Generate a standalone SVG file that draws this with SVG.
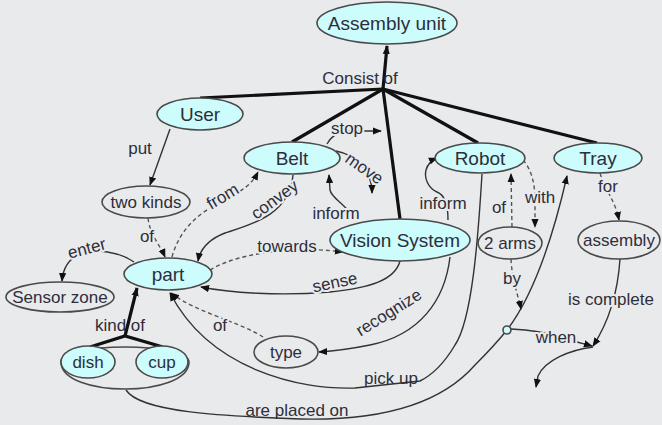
<svg xmlns="http://www.w3.org/2000/svg" width="662" height="425" viewBox="0 0 662 425">
<defs>
<style>
.bg{fill:#e9eaec}
.n ellipse,.n path{stroke:#4a4a4a;stroke-width:1.6}
.c ellipse{fill:#ccfcfc}
.o ellipse,.o path{fill:none}
.t{font-family:"Liberation Sans",Arial,sans-serif;fill:#2e2e3a;text-anchor:middle}
.big{font-size:19px}
.sm{font-size:17px}
.ln{fill:none;stroke:#333;stroke-width:1.4}
.dash{stroke-dasharray:4 3;stroke:#555}
.thick{fill:none;stroke:#111;stroke-width:3.2}
.halo{stroke:#e9eaec;stroke-width:4;paint-order:stroke;stroke-linejoin:round}
</style>
<marker id="ah" viewBox="0 0 10 10" refX="9" refY="5" markerWidth="9" markerHeight="9" markerUnits="userSpaceOnUse" orient="auto"><path d="M0,1 L10,5 L0,9Z" fill="#111"/></marker>
</defs>
<rect class="bg" x="0" y="0" width="662" height="425"/>

<g id="connectors">
  <!-- Consist of hub -->
  <path class="thick" d="M383,89 L387,46" marker-end="url(#ah)"/>
  <path class="thick" d="M383,89 L200,98"/>
  <path class="thick" d="M383,89 L292,142"/>
  <path class="thick" d="M383,89 L400,219"/>
  <path class="thick" d="M383,89 L478,143"/>
  <path class="thick" d="M383,89 L597,143"/>
  <text class="t sm" x="360" y="84">Consist of</text>

  <!-- put -->
  <path class="ln" d="M170,129 L150,185" marker-end="url(#ah)"/>
  <text class="t sm" x="140" y="154">put</text>

  <!-- of (two kinds -> part) -->
  <path class="ln dash" d="M148,218 C150,235 160,245 165,257" marker-end="url(#ah)"/>
  <text class="t sm halo" x="147" y="242">of</text>

  <!-- from -->
  <path class="ln dash" d="M172,257 C180,228 200,212 224,200 C244,190 252,184 258,172" marker-end="url(#ah)"/>
  <text class="t sm halo" transform="translate(223,197) rotate(-31)" y="5">from</text>

  <!-- convey -->
  <path class="ln" d="M293,175 C290,215 250,225 225,233 C207,240 200,250 198,261" marker-end="url(#ah)"/>
  <text class="t sm halo" transform="translate(275,200) rotate(-36)" y="5">convey</text>

  <!-- stop -->
  <path class="ln" d="M327,144 C332,135 340,131 350,131 L381,131" marker-end="url(#ah)"/>
  <text class="t sm halo" x="347" y="134">stop</text>

  <!-- move -->
  <path class="ln" d="M336,151 C356,155 372,170 372,193" marker-end="url(#ah)"/>
  <text class="t sm halo" transform="translate(364,169) rotate(35)" y="5">move</text>

  <!-- inform (Vision -> Belt) -->
  <path class="ln" d="M352,221 C350,205 332,200 330,190 L329,175" marker-end="url(#ah)"/>
  <text class="t sm halo" x="336" y="219">inform</text>

  <!-- inform (Vision -> Robot) -->
  <path class="ln" d="M448,220 C448,205 445,195 437,192 C428,188 424,178 426,170 C428,163 432,160 437,158" marker-end="url(#ah)"/>
  <text class="t sm halo" x="443" y="209">inform</text>

  <!-- towards -->
  <path class="ln dash" d="M210,270 C230,258 260,252 290,250 C310,249 328,250 343,252" marker-end="url(#ah)"/>
  <text class="t sm halo" x="287" y="252">towards</text>

  <!-- sense -->
  <path class="ln" d="M400,261 C395,280 370,288 330,292 C280,296 230,293 201,287" marker-end="url(#ah)"/>
  <text class="t sm halo" transform="translate(335,283) rotate(-12)" y="5">sense</text>

  <!-- recognize -->
  <path class="ln" d="M450,257 C445,300 420,335 370,345 C350,349 335,351 319,352" marker-end="url(#ah)"/>
  <text class="t sm" transform="translate(389,313) rotate(-32)" y="5">recognize</text>

  <!-- of (type -> part) -->
  <path class="ln dash" d="M263,337 C240,322 195,312 171,293" marker-end="url(#ah)"/>
  <text class="t sm halo" x="220" y="331">of</text>

  <!-- pick up -->
  <path class="ln" d="M482,174 C478,240 472,320 455,345 C445,362 432,375 420,381 L355,388 C300,390 210,370 170,293" marker-end="url(#ah)"/>
  <text class="t sm" x="391" y="384">pick up</text>

  <!-- are placed on -->
  <path class="ln" d="M126,390 C140,412 220,416 300,419 C380,421 440,405 475,365 C495,345 503,335 507,330 C530,300 550,250 567,176" marker-end="url(#ah)"/>
  <text class="t sm" x="297" y="416">are placed on</text>

  <!-- with -->
  <path class="ln dash" d="M523,160 C532,170 535,185 535,200 L535,227" marker-end="url(#ah)"/>
  <text class="t sm halo" x="540" y="203">with</text>

  <!-- of (2 arms -> Robot) -->
  <path class="ln dash" d="M512,227 L511,174" marker-end="url(#ah)"/>
  <text class="t sm halo" x="499" y="213">of</text>

  <!-- by -->
  <path class="ln dash" d="M511,259 C512,280 518,295 521,309" marker-end="url(#ah)"/>
  <text class="t sm halo" x="512" y="284">by</text>

  <!-- for -->
  <path class="ln dash" d="M600,173 C605,190 615,200 619,220" marker-end="url(#ah)"/>
  <text class="t sm halo" x="608" y="192">for</text>

  <!-- is complete -->
  <path class="ln" d="M620,259 C618,290 610,320 593,346" marker-end="url(#ah)"/>
  <text class="t sm halo" x="611" y="305">is complete</text>

  <!-- when -->
  <path class="ln" d="M511,329 C530,330 545,332 560,337 C575,342 585,344 592,346" marker-end="url(#ah)"/>
  <text class="t sm halo" x="556" y="343">when</text>

  <!-- continuation -->
  <path class="ln" d="M593,347 C570,350 545,360 538,376 L536,387" marker-end="url(#ah)"/>

  <!-- enter -->
  <path class="ln" d="M134,262 C120,252 95,248 80,254 C68,259 63,268 62,281" marker-end="url(#ah)"/>
  <text class="t sm halo" transform="translate(87,249) rotate(-15)" y="5">enter</text>

  <!-- kind of -->
  <path class="thick" d="M90,347 L125,336 L163,347"/>
  <path class="thick" d="M125,336 L137,288" marker-end="url(#ah)"/>
  <text class="t sm" x="120" y="331">kind of</text>
</g>

<g id="group-dish-cup" class="n o"><path d="M61,362 C61,398 189,398 189,362 C189,342 61,342 61,362 Z"/></g>
<g id="junction" class="n c"><ellipse cx="507" cy="330" rx="4" ry="4"/></g>

<g id="assembly-unit" class="n c"><ellipse cx="387" cy="23" rx="70" ry="21"/><text class="t big" x="387" y="30">Assembly unit</text></g>
<g id="user" class="n c"><ellipse cx="200" cy="114" rx="43" ry="16"/><text class="t big" x="200" y="121">User</text></g>
<g id="belt" class="n c"><ellipse cx="292" cy="158" rx="48" ry="16"/><text class="t big" x="292" y="165">Belt</text></g>
<g id="robot" class="n c"><ellipse cx="480" cy="158" rx="45" ry="15"/><text class="t big" x="480" y="165">Robot</text></g>
<g id="tray" class="n c"><ellipse cx="598" cy="158" rx="44" ry="15"/><text class="t big" x="598" y="165">Tray</text></g>
<g id="vision-system" class="n c"><ellipse cx="400" cy="240" rx="70" ry="21"/><text class="t big" x="400" y="247">Vision System</text></g>
<g id="two-kinds" class="n o"><ellipse cx="146" cy="202" rx="44" ry="16"/><text class="t sm" x="146" y="208">two kinds</text></g>
<g id="part" class="n c"><ellipse cx="168" cy="274" rx="44" ry="16"/><text class="t big" x="168" y="281">part</text></g>
<g id="sensor-zone" class="n o"><ellipse cx="60" cy="297" rx="54" ry="15"/><text class="t sm" x="60" y="303">Sensor zone</text></g>
<g id="dish" class="n c"><ellipse cx="88" cy="362" rx="27" ry="16"/><text class="t sm" x="88" y="368">dish</text></g>
<g id="cup" class="n c"><ellipse cx="162" cy="362" rx="26" ry="16"/><text class="t sm" x="162" y="368">cup</text></g>
<g id="type" class="n o"><ellipse cx="286" cy="352" rx="32" ry="16"/><text class="t sm" x="286" y="358">type</text></g>
<g id="two-arms" class="n o"><ellipse cx="510" cy="243" rx="32" ry="16"/><text class="t sm" x="510" y="249">2 arms</text></g>
<g id="assembly" class="n o"><ellipse cx="619" cy="240" rx="41" ry="19"/><text class="t sm" x="619" y="246">assembly</text></g>
</svg>
